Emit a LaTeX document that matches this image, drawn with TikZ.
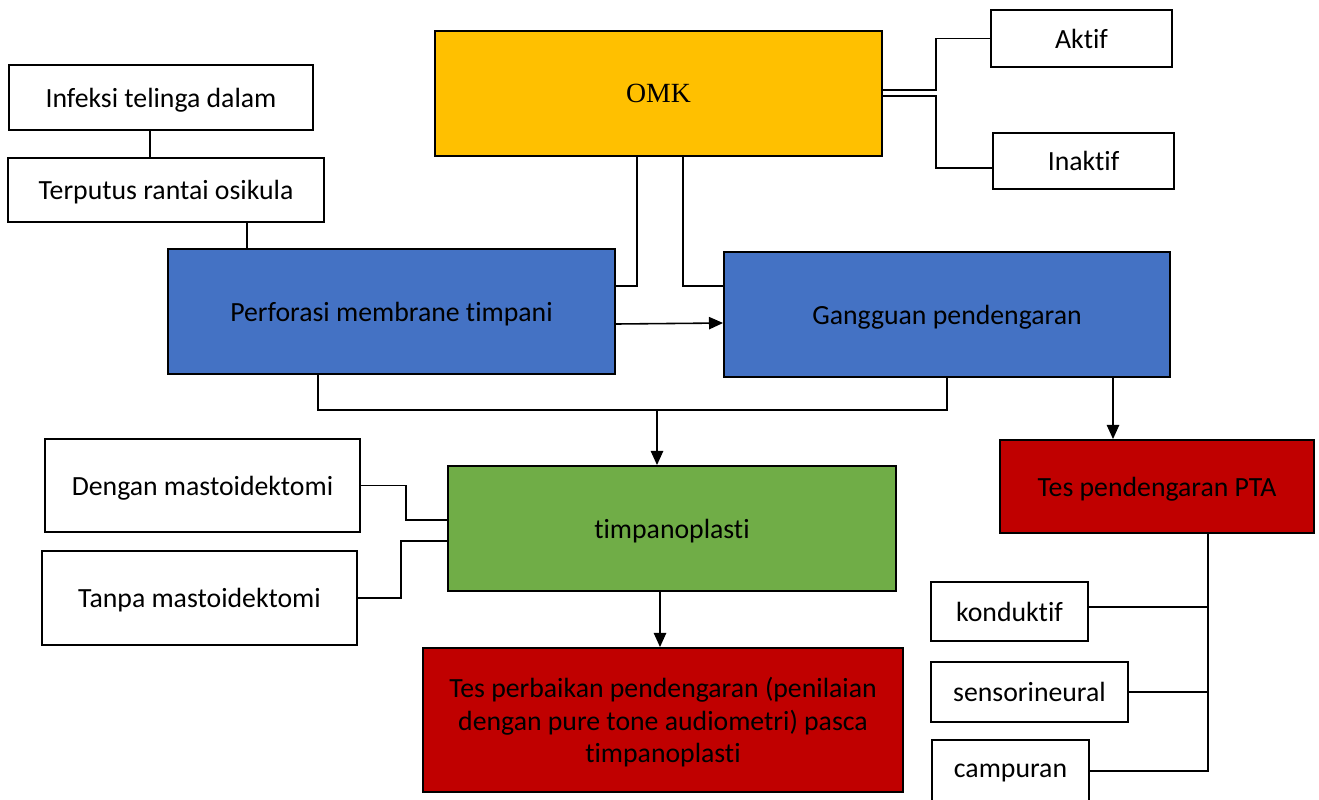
\documentclass[tikz,border=0pt]{standalone}
\usepackage{fontspec}
\setmainfont{Carlito}[Ligatures=NoCommon]
\newfontfamily\timesfont{Liberation Serif}
\usetikzlibrary{arrows.meta,calc}

\definecolor{omkgold}{HTML}{FFC000}
\definecolor{boxblue}{HTML}{4472C4}
\definecolor{boxgreen}{HTML}{70AD47}
\definecolor{boxred}{HTML}{C00000}

\begin{document}
\begin{tikzpicture}[
    wbox/.style={rectangle, draw=black, line width=1.1pt, fill=white, align=center,
                 inner sep=0pt, text depth=0pt, font=\fontsize{15.8}{18.6}\selectfont},
    cbox/.style={wbox, minimum width=8.94cm, minimum height=2.5cm},
    link/.style={line width=0.9pt},
    flow/.style={link, -{Triangle[width=7pt,length=8pt]}}
]
\useasboundingbox (0,0) rectangle (26.38,-15.98);
\node[cbox, fill=omkgold, font=\fontsize{15.8}{18.6}\selectfont\timesfont] (omk) at (13.17,-1.87) {OMK};
\node[wbox, minimum width=3.62cm, minimum height=1.14cm] (aktif) at (21.63,-0.77) {Aktif};
\node[wbox, minimum width=3.62cm, minimum height=1.12cm] (inaktif) at (21.67,-3.22) {Inaktif};
\node[wbox, minimum width=6.08cm, minimum height=1.3cm] (infeksi) at (3.22,-1.95) {Infeksi telinga dalam};
\node[wbox, minimum width=6.32cm, minimum height=1.28cm] (terputus) at (3.32,-3.80) {Terputus rantai osikula};
\node[cbox, fill=boxblue] (perforasi) at (7.83,-6.23) {Perforasi membrane timpani};
\node[cbox, fill=boxblue, minimum width=8.92cm] (gangguan) at (18.94,-6.29) {Gangguan pendengaran};
\node[cbox, fill=boxgreen, minimum width=8.96cm] (timpano) at (13.44,-10.57) {timpanoplasti};
\node[wbox, minimum width=6.3cm, minimum height=1.86cm] (dengan) at (4.05,-9.71) {Dengan mastoidektomi};
\node[wbox, minimum width=6.3cm, minimum height=1.88cm] (tanpa) at (3.99,-11.96) {Tanpa mastoidektomi};
\node[cbox, fill=boxred, minimum width=9.6cm, minimum height=2.88cm] (perbaikan) at (13.26,-14.40)
    {Tes perbaikan pendengaran (penilaian\\dengan pure tone audiometri) pasca\\timpanoplasti};
\node[wbox, fill=boxred, minimum width=6.28cm, minimum height=1.86cm] (pta) at (23.14,-9.73) {Tes pendengaran PTA};
\node[wbox, minimum width=3.14cm, minimum height=1.18cm] (konduktif) at (20.19,-12.23) {konduktif};
\node[wbox, minimum width=3.94cm, minimum height=1.2cm] (sensori) at (20.59,-13.84) {sensorineural};
\node[wbox, minimum width=3.14cm, minimum height=1.24cm] (campuran) at (20.21,-15.42) {campuran};

% OMK branches
\draw[link] ([yshift=0.07cm]omk.east) -- ++(1.06,0) |- (aktif.west);
\draw[link] ([yshift=-0.05cm]omk.east) -- ++(1.06,0) |- ([yshift=-0.14cm]inaktif.west);
\draw[link] ([xshift=-0.43cm]omk.south) |- ([yshift=0.51cm]perforasi.east);
\draw[link] ([xshift=0.49cm]omk.south) |- ([yshift=0.57cm]gangguan.west);

% causes
\draw[link] ([xshift=-0.22cm]infeksi.south) -- ([xshift=-0.22cm]infeksi.south |- terputus.north);
\draw[link] ([xshift=1.62cm]terputus.south) -- ([xshift=1.62cm]terputus.south |- perforasi.north);
\draw[flow] ([yshift=-0.25cm]perforasi.east) -- ([yshift=-0.17cm]gangguan.west);

% to timpanoplasti
\coordinate (join) at ($(timpano.north)+(-0.3,1.1)$);
\draw[link] ([xshift=-1.47cm]perforasi.south) |- (join) -| (gangguan.south);
\draw[flow] (join) -- ([xshift=-0.3cm]timpano.north);
\draw[link] (dengan.east) -- ++(0.9,0) |- ([yshift=0.17cm]timpano.west);
\draw[link] (tanpa.east) -- ++(0.86,0) |- ([yshift=-0.25cm]timpano.west);
\draw[flow] ([xshift=-0.24cm]timpano.south) -- ([xshift=-0.24cm]timpano.south |- perbaikan.north);

% hearing test
\draw[flow] ([xshift=3.32cm]gangguan.south) -- ([xshift=3.32cm]gangguan.south |- pta.north);
\coordinate (trunk) at ([xshift=1.02cm]pta.south);
\draw[link] (trunk) |- (campuran.east);
\draw[link] ([yshift=0.09cm]konduktif.east) -- ([yshift=0.09cm]konduktif.east -| trunk);
\draw[link] (sensori.east) -- (sensori.east -| trunk);
\end{tikzpicture}
\end{document}
